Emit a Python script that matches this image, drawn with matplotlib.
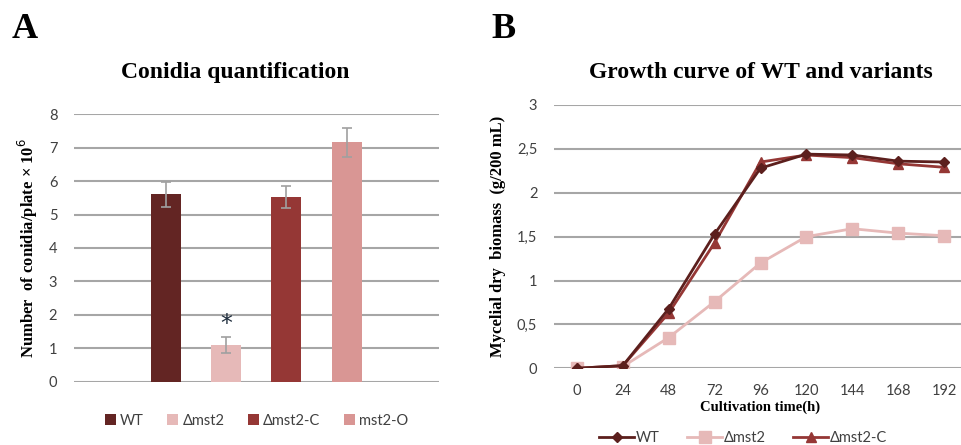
import matplotlib
matplotlib.use("Agg")
import matplotlib.pyplot as plt
from matplotlib.patches import Patch

# ---- Data: panel A ----
strains = ["WT", "Δmst2", "Δmst2-C", "mst2-O"]
conidia = [5.6, 1.1, 5.52, 7.15]
conidia_err = [0.38, 0.23, 0.34, 0.43]
bar_colors = ["#632523", "#E6B9B8", "#953735", "#D99694"]

# ---- Data: panel B ----
times = ["0", "24", "48", "72", "96", "120", "144", "168", "192"]
wt_growth = [0.0, 0.03, 0.68, 1.53, 2.28, 2.44, 2.43, 2.36, 2.35]
mst2_growth = [0.0, 0.02, 0.35, 0.76, 1.20, 1.50, 1.59, 1.54, 1.51]
mst2c_growth = [0.0, 0.03, 0.63, 1.43, 2.35, 2.43, 2.40, 2.33, 2.29]
line_names = ["WT", "Δmst2", "Δmst2-C"]
b_yticks = [0, 0.5, 1, 1.5, 2, 2.5, 3]
b_yticklabels = ["0", "0,5", "1", "1,5", "2", "2,5", "3"]

SERIF = "Liberation Serif"
SANS = "Lato"
GRID = "#a6a6a6"
TICKC = "#404040"

fig = plt.figure(figsize=(9.62, 4.45), dpi=100)

# ---------------- Panel A ----------------
axA = fig.add_axes([0.0769, 0.1416, 0.3794, 0.6022])
xs = list(range(len(strains)))
axA.bar(xs, conidia, width=0.5, color=bar_colors, zorder=3,
        yerr=conidia_err, ecolor="#a0a0a0",
        error_kw=dict(capsize=3.5, elinewidth=1.2, capthick=1.2, zorder=4))
axA.set_xlim(-1.54, 4.54)
axA.set_ylim(0, 8)
axA.set_yticks(range(0, 9))
axA.yaxis.grid(True, color=GRID, linewidth=1.5, zorder=0)
axA.set_axisbelow(True)
for s in axA.spines.values():
    s.set_visible(False)
axA.set_xticks([])
axA.tick_params(axis="y", length=0, pad=12, labelsize=10.5, labelcolor=TICKC)
for lab in axA.get_yticklabels():
    lab.set_fontfamily(SANS)
axA.set_ylabel("Number  of conidia/plate × 10$^{6}$", family=SERIF,
               fontweight="bold", fontsize=12, labelpad=6)
axA.text(1, conidia[1] + conidia_err[1] + 0.05, "*", ha="center", va="bottom",
         fontsize=17, family="DejaVu Sans", color="#1f2d3d")
fig.text(0.245, 0.838, "Conidia quantification", family=SERIF,
         fontweight="bold", fontsize=17, ha="center", va="center")
handles = [Patch(facecolor=c, edgecolor="none") for c in bar_colors]
axA.legend(handles, strains, loc="upper center", bbox_to_anchor=(0.5, -0.07),
           ncol=4, frameon=False, prop={"family": SANS, "size": 10.5},
           handlelength=0.75, handleheight=0.75, handletextpad=0.3,
           columnspacing=1.6, labelcolor=TICKC)

fig.text(0.012, 0.915, "A", family=SERIF, fontweight="bold", fontsize=26)

# ---------------- Panel B ----------------
axB = fig.add_axes([0.5759, 0.1724, 0.4293, 0.5917])
xb = list(range(len(times)))
axB.plot(xb, wt_growth, color="#5c1f1d", marker="D", markersize=5,
         linewidth=2, zorder=5, label=line_names[0])
axB.plot(xb, mst2_growth, color="#E6B9B8", marker="s", markersize=9,
         linewidth=2, zorder=3, label=line_names[1])
axB.plot(xb, mst2c_growth, color="#953735", marker="^", markersize=7.5,
         linewidth=2, zorder=4, label=line_names[2])
axB.set_xlim(-0.5, 8.5)
axB.set_ylim(0, 3)
axB.set_yticks(b_yticks)
axB.set_yticklabels(b_yticklabels)
axB.set_xticks(xb)
axB.set_xticklabels(times)
axB.yaxis.grid(True, color=GRID, linewidth=1.5, zorder=0)
axB.set_axisbelow(True)
for s in axB.spines.values():
    s.set_visible(False)
axB.tick_params(axis="both", length=0, labelsize=10.5, labelcolor=TICKC)
axB.tick_params(axis="y", pad=12)
axB.tick_params(axis="x", pad=11)
for lab in axB.get_yticklabels() + axB.get_xticklabels():
    lab.set_fontfamily(SANS)
axB.set_ylabel("Mycelial dry  biomass  (g/200 mL)", family=SERIF,
               fontweight="bold", fontsize=12, labelpad=8)
axB.set_xlabel("Cultivation time(h)", family=SERIF, fontweight="bold",
               fontsize=10.5, labelpad=2)
fig.text(0.791, 0.838, "Growth curve of WT and variants", family=SERIF,
         fontweight="bold", fontsize=17, ha="center", va="center")
axB.legend(loc="upper center", bbox_to_anchor=(0.458, -0.19), ncol=3,
           frameon=False, prop={"family": SANS, "size": 10.5},
           handlelength=2.4, handletextpad=0.1, columnspacing=1.9,
           labelcolor=TICKC)

fig.text(0.511, 0.915, "B", family=SERIF, fontweight="bold", fontsize=26)

fig.savefig("out.png", dpi=100)
